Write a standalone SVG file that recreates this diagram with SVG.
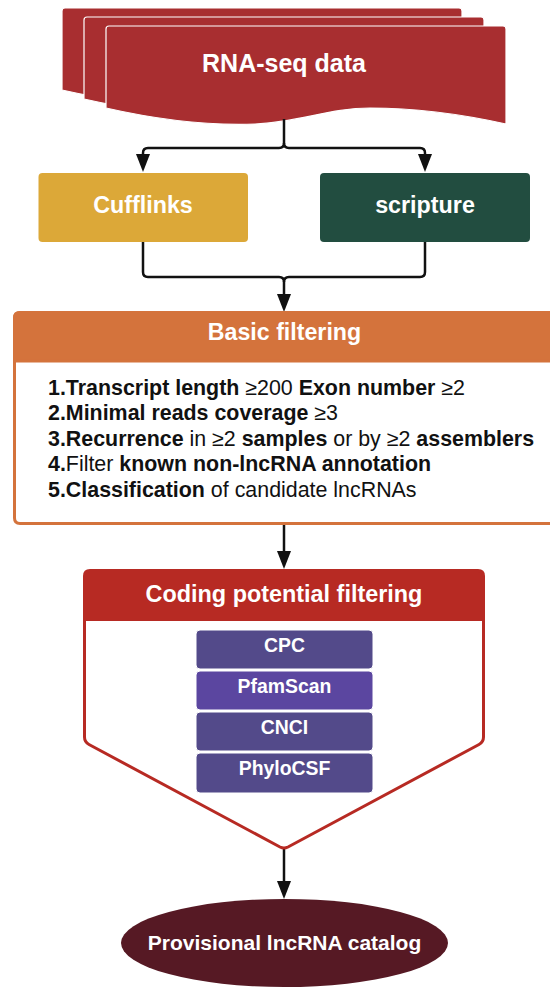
<svg xmlns="http://www.w3.org/2000/svg" xmlns:xlink="http://www.w3.org/1999/xlink" width="550" height="988" viewBox="0 0 550 988">
<style>
text{font-family:"Liberation Sans",Arial,sans-serif}
.w{fill:#ffffff;font-weight:bold;text-anchor:middle}
.conn{fill:none;stroke:#111111;stroke-width:2.5;stroke-linejoin:round}
.list{fill:#111111;font-size:21.4px}
.b{font-weight:bold}
.tool{stroke:#ffffff;stroke-width:1}
</style>
<defs>
<marker id="arr" viewBox="0 0 18 14" refX="5" refY="7" markerWidth="18" markerHeight="14" markerUnits="userSpaceOnUse" orient="auto">
<path d="M0,0 L18,7 L0,14 Z" fill="#111111"/>
</marker>
<path id="page" d="M106,29 Q106,26 109,26 H503 Q506,26 506,29 V124 C470,116 420,108 370,108 C330,108 300,122 255,124 C200,126 150,118 106,108 Z" fill="#a82e30" stroke="#ffffff" stroke-width="1.2"/>
</defs>
<rect width="550" height="988" fill="#ffffff"/>

<g id="rnaseq">
<use xlink:href="#page" transform="translate(-44,-18)"/>
<use xlink:href="#page" transform="translate(-22,-9)"/>
<use xlink:href="#page"/>
<text class="w" x="284" y="72" font-size="25">RNA-seq data</text>
</g>

<g id="connectors">
<path class="conn" d="M284,119 V143 Q284,148 279,148 H148 Q143,148 143,153 V159" marker-end="url(#arr)"/>
<path class="conn" d="M284,143 Q284,148 289,148 H420 Q425,148 425,153 V159" marker-end="url(#arr)"/>
<path class="conn" d="M143,242 V272 Q143,277 148,277 H279 Q284,277 284,282 V299" marker-end="url(#arr)"/>
<path class="conn" d="M425,242 V272 Q425,277 420,277 H289 Q284,277 284,282"/>
<path class="conn" d="M284,525 V556" marker-end="url(#arr)"/>
<path class="conn" d="M284,849 V886" marker-end="url(#arr)"/>
</g>

<g id="cufflinks">
<rect x="38.5" y="173" width="209.5" height="69" rx="4" fill="#dca838"/>
<text class="w" x="143" y="213" font-size="23.3">Cufflinks</text>
</g>

<g id="scripture">
<rect x="320" y="173" width="210" height="69" rx="4" fill="#224d40"/>
<text class="w" x="425" y="213" font-size="23.3">scripture</text>
</g>

<g id="basic">
<path d="M14.5,318 Q14.5,312.5 20,312.5 H556 V523.5 H20 Q14.5,523.5 14.5,518 Z" fill="#ffffff" stroke="#d4733c" stroke-width="3"/>
<path d="M14.5,318 Q14.5,312.5 20,312.5 H556 V361 H14.5 Z" fill="#d4733c" stroke="#d4733c" stroke-width="3"/>
<text class="w" x="284.5" y="340" font-size="23.2">Basic filtering</text>
<text class="list" x="48" y="395"><tspan class="b">1.Transcript length</tspan> ≥200 <tspan class="b">Exon number</tspan> ≥2</text>
<text class="list" x="48" y="420"><tspan class="b">2.Minimal reads coverage</tspan> ≥3</text>
<text class="list" x="48" y="446"><tspan class="b">3.Recurrence</tspan> in ≥2 <tspan class="b">samples</tspan> or by ≥2 <tspan class="b">assemblers</tspan></text>
<text class="list" x="48" y="471"><tspan class="b">4.</tspan>Filter <tspan class="b">known non-lncRNA annotation</tspan></text>
<text class="list" x="48" y="497"><tspan class="b">5.Classification</tspan> of candidate lncRNAs</text>
</g>

<g id="coding">
<path d="M84.5,576 Q84.5,570.5 90,570.5 H478 Q483.5,570.5 483.5,576 V621 H84.5 Z" fill="#b72a23"/>
<path d="M84.5,576 Q84.5,570.5 90,570.5 H478 Q483.5,570.5 483.5,576 V737 Q483.5,742 479,744.5 L288,847 Q284,849 280,847 L89,744.5 Q84.5,742 84.5,737 Z" fill="none" stroke="#b72a23" stroke-width="3" stroke-linejoin="round"/>
<text class="w" x="284" y="602" font-size="23.4">Coding potential filtering</text>
</g>

<g id="cpc">
<rect class="tool" x="196" y="630" width="177" height="39" rx="4" fill="#534a8a"/>
<text class="w" x="284.5" y="652" font-size="19.4">CPC</text>
</g>
<g id="pfamscan">
<rect class="tool" x="196" y="671" width="177" height="39" rx="4" fill="#5b46a0"/>
<text class="w" x="284.5" y="693" font-size="19.4">PfamScan</text>
</g>
<g id="cnci">
<rect class="tool" x="196" y="712" width="177" height="39" rx="4" fill="#534a8a"/>
<text class="w" x="284.5" y="734" font-size="19.4">CNCI</text>
</g>
<g id="phylocsf">
<rect class="tool" x="196" y="753" width="177" height="40" rx="4" fill="#534a8a"/>
<text class="w" x="284.5" y="775" font-size="19.4">PhyloCSF</text>
</g>

<g id="catalog">
<ellipse cx="284.5" cy="943" rx="163.5" ry="44" fill="#561924"/>
<text class="w" x="284.5" y="950" font-size="21">Provisional lncRNA catalog</text>
</g>
</svg>
